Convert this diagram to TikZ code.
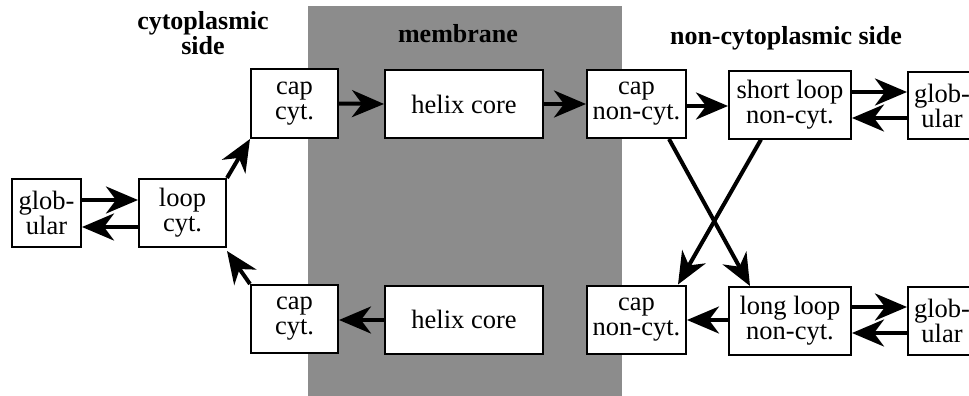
\documentclass[tikz,border=0pt]{standalone}
\usepackage{fontspec}
\setmainfont{Liberation Serif}
\usetikzlibrary{arrows.meta}
\definecolor{memgray}{HTML}{8C8C8C}
\begin{document}
\begin{tikzpicture}[x=1pt,y=-1pt,
  box/.style={draw=black,line width=2pt,fill=white,inner sep=0pt,align=center,
    font=\fontsize{26.5}{25}\selectfont},
  arr/.style={line width=4pt,-{Stealth[length=32pt,width=27pt,inset=10pt]}},
  ttl/.style={font=\fontsize{26}{25}\selectfont\bfseries,align=center}]
\useasboundingbox (0,0) rectangle (969,396);
\clip (0,0) rectangle (969,396);
\fill[memgray] (308,6) rectangle (622,400);
% titles
\node[ttl,anchor=base] (tcyt) at (203,30) {cytoplasmic};
\node[ttl,anchor=base] (tside) at (203,55) {side};
\node[ttl,anchor=base] (tmem) at (458,43) {membrane};
\node[ttl,anchor=base] (tnon) at (786,45) {non-cytoplasmic side};
% top row
\node[box,minimum width=69pt,minimum height=68pt] (gl1) at (46.5,213) {glob-\\ular};
\node[box,minimum width=87pt,minimum height=68pt] (loop) at (182.5,213) {loop\\cyt.};
\node[box,minimum width=87pt,minimum height=69pt] (capct) at (294.5,103.5) {cap\\cyt.};
\node[box,minimum width=158pt,minimum height=68pt] (helixt) at (464,104) {helix core};
\node[box,minimum width=99pt,minimum height=68pt] (capnt) at (636.5,104) {cap\\non-cyt.};
\node[box,minimum width=122pt,minimum height=67pt] (short) at (790,105) {short loop\\non-cyt.};
\node[box,minimum width=68pt,minimum height=67pt] (glt) at (942,105.5) {glob-\\ular};
% bottom row
\node[box,minimum width=87pt,minimum height=68pt] (capcb) at (294.5,319) {cap\\cyt.};
\node[box,minimum width=158pt,minimum height=68pt] (helixb) at (464,319.5) {helix core};
\node[box,minimum width=99pt,minimum height=68pt] (capnb) at (636.5,319.5) {cap\\non-cyt.};
\node[box,minimum width=122pt,minimum height=68pt] (long) at (790,321) {long loop\\non-cyt.};
\node[box,minimum width=68pt,minimum height=68pt] (glb) at (942,321) {glob-\\ular};
% arrows
\draw[arr] (gl1.east |- 0,200) -- (loop.west |- 0,200);
\draw[arr] (loop.west |- 0,227) -- (gl1.east |- 0,227);
\draw[arr] (loop.north east) -- (capct.south west);
\draw[arr] (capcb.north west) -- ([shift={(0pt,-3pt)}]loop.south east);
\draw[arr] (capct.east) -- (helixt.west);
\draw[arr] (helixt.east) -- (capnt.west);
\draw[arr] (capnt.east |- 0,106) -- (short.west |- 0,106);
\draw[arr] (short.east |- 0,92) -- (glt.west |- 0,92);
\draw[arr] (glt.west |- 0,118) -- (short.east |- 0,118);
\draw[arr] (capnt.south -| 669,0) -- (long.north -| 750,0);
\draw[arr] (short.south -| 761,0) -- (capnb.north -| 678,0);
\draw[arr] (long.west |- 0,320) -- (capnb.east |- 0,320);
\draw[arr] (helixb.west |- 0,320) -- (capcb.east |- 0,320);
\draw[arr] (long.east |- 0,307) -- (glb.west |- 0,307);
\draw[arr] (glb.west |- 0,333) -- (long.east |- 0,333);
\end{tikzpicture}
\end{document}
